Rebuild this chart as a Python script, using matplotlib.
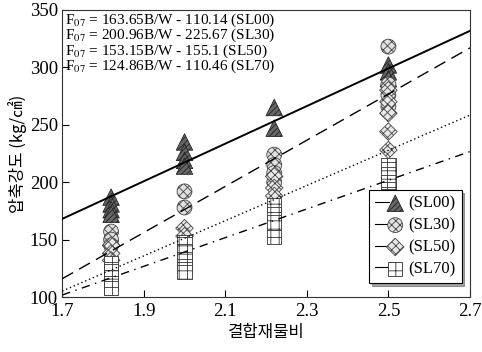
import matplotlib
matplotlib.use("Agg")
import matplotlib.pyplot as plt
from matplotlib.legend_handler import HandlerTuple
from matplotlib.lines import Line2D
import numpy as np

plt.rcParams['font.family'] = ['Liberation Serif', 'Noto Sans CJK KR', 'DejaVu Sans']
plt.rcParams['mathtext.fontset'] = 'stix'
plt.rcParams['hatch.linewidth'] = 0.6

sl00_x = [1.82, 1.82, 1.82, 1.82, 2.0, 2.0, 2.0, 2.0, 2.22, 2.22, 2.5, 2.5, 2.5]
sl00_y = [187, 181, 176, 172, 235, 226, 219, 214, 265, 247, 302, 296, 290]
sl30_x = [1.82, 1.82, 1.82, 2.0, 2.0, 2.22, 2.22, 2.22, 2.22, 2.5, 2.5, 2.5, 2.5]
sl30_y = [157, 150, 145, 192, 178, 224, 215, 208, 200, 318, 285, 276, 266]
sl50_x = [1.82, 1.82, 1.82, 2.0, 2.0, 2.22, 2.22, 2.22, 2.5, 2.5, 2.5, 2.5, 2.5]
sl50_y = [145, 138, 132, 160, 153, 205, 195, 188, 280, 270, 260, 244, 228]
sl70_x = [1.82, 1.82, 1.82, 1.82, 1.82, 2.0, 2.0, 2.0, 2.0, 2.0, 2.22, 2.22, 2.22, 2.22,
          2.5, 2.5, 2.5, 2.5, 2.5]
sl70_y = [130, 123, 117, 112, 108, 148, 140, 133, 127, 122, 180, 172, 165, 152,
          215, 207, 200, 194, 188]

# regression lines F07 = a*B/W + b
names = ['(SL00)', '(SL30)', '(SL50)', '(SL70)']
slopes = [163.65, 200.96, 153.15, 124.86]
intercepts = [-110.14, -225.67, -155.1, -110.46]
eq_text = ['163.65B/W - 110.14 (SL00)', '200.96B/W - 225.67 (SL30)',
           '153.15B/W - 155.1 (SL50)', '124.86B/W - 110.46 (SL70)']

fig = plt.figure(figsize=(4.82, 3.52), dpi=100)
ax = fig.add_axes([0.129, 0.156, 0.846, 0.816])

xs = np.array([1.7, 2.7])
styles = ['-', (0, (9, 5)), (0, (1, 2)), (0, (6, 4, 1, 4))]
widths = [1.4, 1.0, 1.0, 1.0]
for a, b, ls, lw in zip(slopes, intercepts, styles, widths):
    ax.plot(xs, a * xs + b, color='black', linestyle=ls, linewidth=lw, zorder=3)

m1 = ax.scatter(sl00_x, sl00_y, marker='^', s=140, facecolor='#666666', edgecolor='#222222',
                hatch='//////', linewidth=0.6, zorder=2)
m2 = ax.scatter(sl30_x, sl30_y, marker='o', s=115, facecolor='#e0e0e0', edgecolor='#444444',
                hatch='xxxx', linewidth=0.6, zorder=2)
m3 = ax.scatter(sl50_x, sl50_y, marker='D', s=80, facecolor='#e8e8e8', edgecolor='#444444',
                hatch='xxxx', linewidth=0.6, zorder=2)
m4 = ax.scatter(sl70_x, sl70_y, marker='s', s=105, facecolor='white', edgecolor='#333333',
                hatch='++', linewidth=0.6, zorder=2)

ax.set_xlim(1.7, 2.7)
ax.set_ylim(100, 350)
ax.set_xticks([1.7, 1.9, 2.1, 2.3, 2.5, 2.7])
ax.set_xticklabels(['1.7', '1.9', '2.1', '2.3', '2.5', '2.7'])
ax.set_yticks([100, 150, 200, 250, 300, 350])
ax.tick_params(direction='in', labelsize=13.5, length=5, width=0.8)
ax.tick_params(axis='y', pad=3)
ax.tick_params(axis='x', pad=4)
for sp in ax.spines.values():
    sp.set_linewidth(0.8)
    sp.set_color('#333333')

ax.set_xlabel('결합재물비', fontsize=12, family=['Noto Sans CJK KR'], labelpad=3)
ax.set_ylabel('압축강도 (kg/㎠)', fontsize=12, family=['Noto Sans CJK KR'], labelpad=2)

# the four equations as one block of text
eq_block = '\n'.join(r'F$_{07}$ = ' + t for t in eq_text)
ax.text(0.008, 0.995, eq_block, transform=ax.transAxes,
        fontsize=11, va='top', ha='left', linespacing=0.85)

short = [Line2D([0], [0], color='black', linewidth=0.8) for _ in range(4)]
leg = ax.legend([(short[0], m1), (short[1], m2), (short[2], m3), (short[3], m4)], names,
                handler_map={tuple: HandlerTuple(ndivide=None, pad=0)},
                loc='lower right', bbox_to_anchor=(1.0, 0.02), fontsize=12,
                frameon=True, fancybox=False, shadow=True, edgecolor='black',
                handlelength=1.6, labelspacing=0.35, borderpad=0.35, handletextpad=0.4)
leg.get_frame().set_linewidth(0.8)

fig.savefig('out.png', dpi=100)
